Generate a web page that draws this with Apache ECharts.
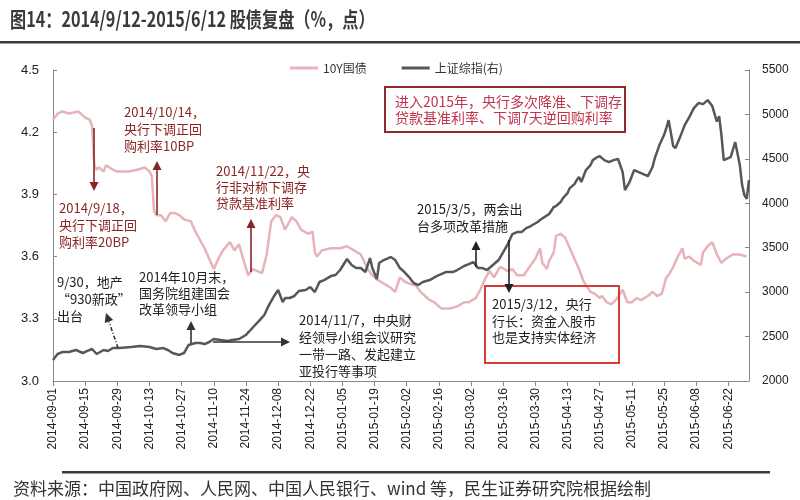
<!DOCTYPE html>
<html>
<head>
<meta charset="utf-8">
<script src="https://cdn.jsdelivr.net/npm/echarts@6/dist/echarts.min.js"></script>
<style>html,body{margin:0;padding:0;background:#fff;}#c{width:800px;height:500px;}</style>
</head>
<body>
<div id="c"></div>
<script>
// ---- data ----
const titleText = '图14：2014/9/12-2015/6/12 股债复盘（%，点）';
const sourceText = '资料来源：中国政府网、人民网、中国人民银行、wind 等，民生证券研究院根据绘制';
const seriesNames = ['10Y国债', '上证综指(右)'];
const axisStart = '2014-09-01';
const axisEnd = '2015-07-01';
const leftTicks = [3.0, 3.3, 3.6, 3.9, 4.2, 4.5];
const rightTicks = [2000, 2500, 3000, 3500, 4000, 4500, 5000, 5500];

const bondDates = ['2014-09-01','2014-09-03','2014-09-05','2014-09-08','2014-09-12','2014-09-15','2014-09-17','2014-09-18','2014-09-19','2014-09-20','2014-09-21','2014-09-23','2014-09-24','2014-09-27','2014-09-29','2014-10-01','2014-10-04','2014-10-08','2014-10-11','2014-10-13','2014-10-14','2014-10-15','2014-10-16','2014-10-18','2014-10-20','2014-10-22','2014-10-24','2014-10-26','2014-10-28','2014-10-31','2014-11-02','2014-11-04','2014-11-06','2014-11-08','2014-11-10','2014-11-12','2014-11-14','2014-11-17','2014-11-19','2014-11-21','2014-11-23','2014-11-25','2014-11-27','2014-11-29','2014-12-01','2014-12-03','2014-12-05','2014-12-07','2014-12-09','2014-12-11','2014-12-14','2014-12-16','2014-12-18','2014-12-21','2014-12-23','2014-12-24','2014-12-25','2014-12-27','2014-12-31','2015-01-04','2015-01-07','2015-01-10','2015-01-13','2015-01-16','2015-01-18','2015-01-20','2015-01-23','2015-01-26','2015-01-28','2015-01-30','2015-02-01','2015-02-03','2015-02-06','2015-02-08','2015-02-10','2015-02-12','2015-02-14','2015-02-17','2015-02-21','2015-02-24','2015-02-27','2015-03-01','2015-03-04','2015-03-06','2015-03-08','2015-03-10','2015-03-12','2015-03-14','2015-03-15','2015-03-18','2015-03-20','2015-03-22','2015-03-25','2015-03-28','2015-03-30','2015-04-01','2015-04-02','2015-04-04','2015-04-05','2015-04-07','2015-04-08','2015-04-10','2015-04-12','2015-04-14','2015-04-16','2015-04-18','2015-04-20','2015-04-23','2015-04-25','2015-04-27','2015-04-28','2015-04-30','2015-05-02','2015-05-04','2015-05-07','2015-05-09','2015-05-11','2015-05-13','2015-05-15','2015-05-18','2015-05-20','2015-05-22','2015-05-24','2015-05-26','2015-05-27','2015-05-29','2015-05-31','2015-06-02','2015-06-03','2015-06-05','2015-06-07','2015-06-10','2015-06-11','2015-06-13','2015-06-15','2015-06-17','2015-06-19','2015-06-21','2015-06-24','2015-06-27','2015-06-30'];
const bondValues = [4.26,4.29,4.30,4.29,4.30,4.27,4.26,4.23,4.04,4.02,4.03,4.01,4.04,4.02,4.01,4.01,4.01,4.02,4.03,4.01,3.99,3.82,3.80,3.80,3.77,3.81,3.81,3.80,3.78,3.77,3.72,3.68,3.64,3.59,3.54,3.59,3.63,3.67,3.63,3.66,3.58,3.51,3.54,3.53,3.52,3.61,3.77,3.80,3.79,3.73,3.79,3.77,3.73,3.71,3.72,3.62,3.60,3.63,3.64,3.64,3.65,3.63,3.61,3.54,3.51,3.49,3.47,3.45,3.43,3.50,3.48,3.47,3.46,3.43,3.41,3.39,3.38,3.35,3.35,3.36,3.38,3.38,3.40,3.44,3.49,3.53,3.50,3.54,3.55,3.53,3.54,3.51,3.51,3.56,3.59,3.64,3.57,3.54,3.58,3.62,3.70,3.71,3.69,3.64,3.59,3.54,3.48,3.43,3.42,3.40,3.41,3.38,3.37,3.39,3.44,3.38,3.38,3.40,3.39,3.41,3.43,3.41,3.42,3.50,3.51,3.55,3.60,3.64,3.59,3.60,3.58,3.56,3.62,3.65,3.67,3.61,3.57,3.59,3.61,3.61,3.60];

const shDates = ['2014-09-01','2014-09-03','2014-09-05','2014-09-08','2014-09-11','2014-09-14','2014-09-16','2014-09-18','2014-09-20','2014-09-23','2014-09-25','2014-09-27','2014-09-30','2014-10-05','2014-10-09','2014-10-13','2014-10-16','2014-10-19','2014-10-21','2014-10-23','2014-10-26','2014-10-28','2014-10-30','2014-11-02','2014-11-04','2014-11-06','2014-11-08','2014-11-10','2014-11-13','2014-11-16','2014-11-18','2014-11-21','2014-11-24','2014-11-26','2014-11-28','2014-11-30','2014-12-02','2014-12-04','2014-12-06','2014-12-08','2014-12-10','2014-12-11','2014-12-13','2014-12-15','2014-12-17','2014-12-20','2014-12-22','2014-12-24','2014-12-26','2014-12-28','2014-12-31','2015-01-02','2015-01-04','2015-01-07','2015-01-09','2015-01-11','2015-01-13','2015-01-15','2015-01-17','2015-01-18','2015-01-20','2015-01-21','2015-01-23','2015-01-26','2015-01-28','2015-01-30','2015-02-01','2015-02-03','2015-02-05','2015-02-07','2015-02-09','2015-02-12','2015-02-15','2015-02-19','2015-02-22','2015-02-24','2015-02-27','2015-03-01','2015-03-03','2015-03-05','2015-03-07','2015-03-09','2015-03-12','2015-03-14','2015-03-16','2015-03-18','2015-03-20','2015-03-22','2015-03-24','2015-03-26','2015-03-28','2015-03-31','2015-04-01','2015-04-03','2015-04-05','2015-04-07','2015-04-08','2015-04-10','2015-04-11','2015-04-13','2015-04-14','2015-04-16','2015-04-17','2015-04-18','2015-04-19','2015-04-21','2015-04-23','2015-04-24','2015-04-26','2015-04-27','2015-04-29','2015-05-01','2015-05-03','2015-05-05','2015-05-07','2015-05-08','2015-05-10','2015-05-12','2015-05-14','2015-05-17','2015-05-18','2015-05-20','2015-05-21','2015-05-23','2015-05-25','2015-05-26','2015-05-27','2015-05-29','2015-05-30','2015-06-01','2015-06-03','2015-06-05','2015-06-07','2015-06-09','2015-06-11','2015-06-13','2015-06-15','2015-06-17','2015-06-18','2015-06-19','2015-06-20','2015-06-23','2015-06-25','2015-06-27','2015-06-28','2015-06-29','2015-06-30','2015-07-01'];
const shValues = [2236,2304,2326,2326,2349,2315,2338,2360,2304,2349,2338,2371,2371,2383,2394,2383,2360,2371,2349,2315,2293,2315,2405,2428,2428,2416,2439,2473,2461,2450,2461,2473,2518,2574,2630,2686,2743,2855,2945,3024,2889,2934,2934,2956,3013,3024,3058,3001,3114,3136,3181,3193,3249,3373,3305,3271,3271,3226,3384,3271,3148,3328,3361,3395,3361,3271,3226,3170,3103,3080,3114,3136,3181,3226,3226,3249,3294,3316,3339,3271,3271,3249,3316,3361,3451,3541,3654,3676,3676,3721,3744,3789,3811,3845,3879,3958,3969,4014,4059,4115,4171,4216,4261,4295,4239,4374,4430,4486,4520,4531,4486,4464,4486,4498,4351,4149,4239,4374,4351,4318,4306,4408,4509,4655,4768,4846,4936,4644,4621,4745,4880,4970,5071,5128,5116,5161,5094,4920,4980,4768,4486,4520,4689,4430,4205,4092,4050,4260];

// ---- build category axis (calendar days) ----
function fmt(d){const m=d.getUTCMonth()+1, dd=d.getUTCDate();return d.getUTCFullYear()+'-'+(m<10?'0':'')+m+'-'+(dd<10?'0':'')+dd;}
const categories = [];
for (let t = Date.parse(axisStart+'T00:00:00Z'); t <= Date.parse(axisEnd+'T00:00:00Z'); t += 86400000) categories.push(fmt(new Date(t)));

const PINK = '#e6b4b8', DARK = '#575757', DRED = '#8b2525', BLACK = '#222';
const annFont = '13px "Noto Sans CJK SC", sans-serif';

function txt(x, y, text, color, font, lh){
  return {type:'text', x:x, y:y, z:100, style:{text:text, fill:color, font:font||annFont, lineHeight:lh||17, verticalAlign:'top', align:'left'}};
}
function arrow(x1,y1,x2,y2,color,dashed){
  const dx=x2-x1, dy=y2-y1, L=Math.sqrt(dx*dx+dy*dy), ux=dx/L, uy=dy/L;
  const hl=9, hw=4.5;
  const bx=x2-ux*hl, by=y2-uy*hl;
  return [
    {type:'line', z:100, shape:{x1:x1,y1:y1,x2:bx,y2:by}, style:{stroke:color, lineWidth:1.6, lineDash: dashed?[4,2,1,2]:null}},
    {type:'polygon', z:100, shape:{points:[[x2,y2],[bx-uy*hw,by+ux*hw],[bx+uy*hw,by-ux*hw]]}, style:{fill:color}}
  ];
}

const graphics = [
  {type:'text', x:10, y:9, scaleX:0.77, scaleY:1, style:{text:titleText, fill:'#3a3a3a', font:'bold 21px "Noto Sans CJK SC", sans-serif', verticalAlign:'top'}},
  {type:'rect', shape:{x:0,y:41,width:800,height:2.5}, style:{fill:'#3a3a3a'}},
  {type:'rect', shape:{x:62,y:471,width:708,height:2.5}, style:{fill:'#3a3a3a'}},
  {type:'text', x:13, y:480, style:{text:sourceText, fill:'#333', font:'17px "Noto Sans CJK SC", sans-serif', verticalAlign:'top'}},
  txt(124, 104, '2014/10/14，\n央行下调正回\n购利率10BP', DRED),
  txt(59, 200, '2014/9/18，\n央行下调正回\n购利率20BP', DRED),
  txt(216, 163, '2014/11/22，央\n行非对称下调存\n贷款基准利率', DRED, null, 16),
  {type:'rect', z:99, shape:{x:385,y:87,width:240,height:45}, style:{fill:'#fff', stroke:'#8e2b2b', lineWidth:2}},
  txt(395, 94, '进入2015年，央行多次降准、下调存\n贷款基准利率、下调7天逆回购利率', '#c0344c', '14px "Noto Sans CJK SC", sans-serif', 16),
  txt(417, 201, '2015/3/5，两会出\n台多项改革措施', BLACK),
  {type:'rect', z:99, shape:{x:485,y:286,width:134,height:77}, style:{fill:'rgba(255,255,255,0)', stroke:'#d23c3c', lineWidth:2}},
  txt(492, 296, '2015/3/12，央行\n行长：资金入股市\n也是支持实体经济', BLACK, null, 16.5),
  txt(57, 274, '9/30，地产\n“930新政”\n出台', BLACK),
  txt(139, 269, '2014年10月末，\n国务院组建国会\n改革领导小组', BLACK, null, 16),
  txt(299, 311, '2014/11/7，中央财\n经领导小组会议研究\n一带一路、发起建立\n亚投行等事项', BLACK, null, 17.3)
].concat(
  arrow(157,215,157,161,DRED),
  arrow(94,128,94,191,DRED),
  arrow(251,272,251,219,DRED),
  arrow(476,267,476,241,BLACK),
  arrow(509,240,509,293,BLACK),
  arrow(118,348,106,313,'#333',true),
  arrow(191,343,191,321,'#333'),
  arrow(213,342,290,342,'#333')
);

const chart = echarts.init(document.getElementById('c'), null, {renderer:'canvas'});
chart.setOption({
  backgroundColor:'#fff',
  animation:false,
  grid:{left:53, right:51, top:70, bottom:119, containLabel:false},
  legend:{
    top:57, left:285, itemWidth:28, itemHeight:3, itemGap:35,
    textStyle:{color:'#333', fontSize:12, fontFamily:'"Noto Sans CJK SC", sans-serif'},
    data:[{name:seriesNames[0], icon:'rect'},{name:seriesNames[1], icon:'rect'}]
  },
  xAxis:{
    type:'category', data:categories, boundaryGap:false,
    axisLine:{lineStyle:{color:'#888', width:1}},
    axisTick:{interval:13, length:5, lineStyle:{color:'#888'}},
    axisLabel:{interval:13, rotate:90, margin:7, color:'#222', fontSize:12, fontFamily:'Liberation Sans, Arial, sans-serif'},
    splitLine:{show:false}
  },
  yAxis:[
    {type:'value', min:leftTicks[0], max:leftTicks[leftTicks.length-1], interval:0.3, position:'left',
     axisLine:{show:true, lineStyle:{color:'#888'}}, axisTick:{show:true, inside:true, length:4, lineStyle:{color:'#888'}},
     axisLabel:{margin:14, color:'#222', fontSize:13, fontFamily:'Liberation Sans, Arial, sans-serif', formatter:v=>v.toFixed(1)},
     splitLine:{show:false}},
    {type:'value', min:rightTicks[0], max:rightTicks[rightTicks.length-1], interval:500, position:'right',
     axisLine:{show:true, lineStyle:{color:'#888'}}, axisTick:{show:true, inside:true, length:4, lineStyle:{color:'#888'}},
     axisLabel:{margin:13, color:'#222', fontSize:12, fontFamily:'Liberation Sans, Arial, sans-serif', formatter:v=>String(v)},
     splitLine:{show:false}}
  ],
  series:[
    {name:seriesNames[0], type:'line', yAxisIndex:0, showSymbol:false, symbol:'none',
     data:bondDates.map((d,i)=>[d,bondValues[i]]), lineStyle:{color:PINK, width:2.5}, itemStyle:{color:PINK}, z:2},
    {name:seriesNames[1], type:'line', yAxisIndex:1, showSymbol:false, symbol:'none',
     data:shDates.map((d,i)=>[d,shValues[i]]), lineStyle:{color:DARK, width:2.5}, itemStyle:{color:DARK}, z:3}
  ],
  graphic:graphics
});
</script>
</body>
</html>
